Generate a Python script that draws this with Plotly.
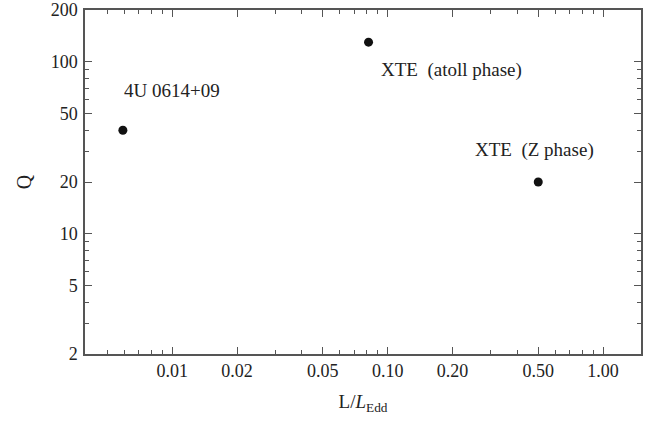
import math
import plotly.graph_objects as go

# Data
names = ["4U 0614+09", "XTE&nbsp;&nbsp;(atoll phase)", "XTE&nbsp;&nbsp;(Z phase)"]
lum = [0.0059, 0.0815, 0.50]
q = [40, 130, 20]

x_ticks = [0.01, 0.02, 0.05, 0.10, 0.20, 0.50, 1.00]
x_ticklabels = ["0.01", "0.02", "0.05", "0.10", "0.20", "0.50", "1.00"]
x_minor = [0.005, 0.006, 0.007, 0.008, 0.009, 0.03, 0.04, 0.06, 0.07, 0.08, 0.09,
           0.3, 0.4, 0.6, 0.7, 0.8, 0.9]
y_ticks = [2, 5, 10, 20, 50, 100, 200]
y_ticklabels = ["2", "5", "10", "20", "50", "100", "200"]
y_minor = [3, 4, 6, 7, 8, 9, 30, 40, 60, 70, 80, 90]

# label anchor positions (data coords, left edge / vertical middle)
label_x = [0.00585, 0.0912, 0.249]
label_y = [68.5, 89.5, 30.7]

font_family = "Liberation Serif, Times New Roman, serif"
axis_col = "#555555"
text_col = "#222222"

fig = go.Figure()
fig.add_trace(go.Scatter(
    x=lum, y=q, mode="markers",
    marker=dict(color="#111111", size=9),
    showlegend=False,
))

for nx, ny, t in zip(label_x, label_y, names):
    fig.add_annotation(x=math.log10(nx), y=math.log10(ny), xref="x", yref="y",
                       text=t, showarrow=False,
                       xanchor="left", yanchor="middle",
                       font=dict(family=font_family, size=19, color=text_col))

axis_common = dict(
    type="log", showgrid=False, zeroline=False, automargin=False,
    showline=True, linecolor=axis_col, linewidth=1.5, mirror="allticks",
    ticks="inside", ticklen=7, tickcolor=axis_col, tickwidth=1,
    tickfont=dict(family=font_family, size=18, color=text_col),
    ticklabeloverflow="allow",
)

fig.update_xaxes(
    **axis_common,
    range=[-2.405, 0.176],
    tickvals=x_ticks, ticktext=x_ticklabels,
    minor=dict(tickvals=x_minor, ticks="inside", ticklen=4, tickcolor=axis_col, showgrid=False),
    title=dict(text="L/<i>L</i><sub>Edd</sub>", font=dict(family=font_family, size=19, color=text_col), standoff=14),
)
fig.update_yaxes(
    **axis_common,
    range=[math.log10(2), math.log10(200)],
    tickvals=y_ticks, ticktext=y_ticklabels,
    ticklabelstandoff=2,
    minor=dict(tickvals=y_minor, ticks="inside", ticklen=4, tickcolor=axis_col, showgrid=False),
    title=dict(text="Q", font=dict(family=font_family, size=20, color=text_col), standoff=14),
)

fig.update_layout(
    width=657, height=421,
    margin=dict(l=85, r=16, t=10, b=67),
    paper_bgcolor="white", plot_bgcolor="white",
)

fig.write_html("out.html", config={"displayModeBar": False},
               post_script="document.body.style.margin='0';")
